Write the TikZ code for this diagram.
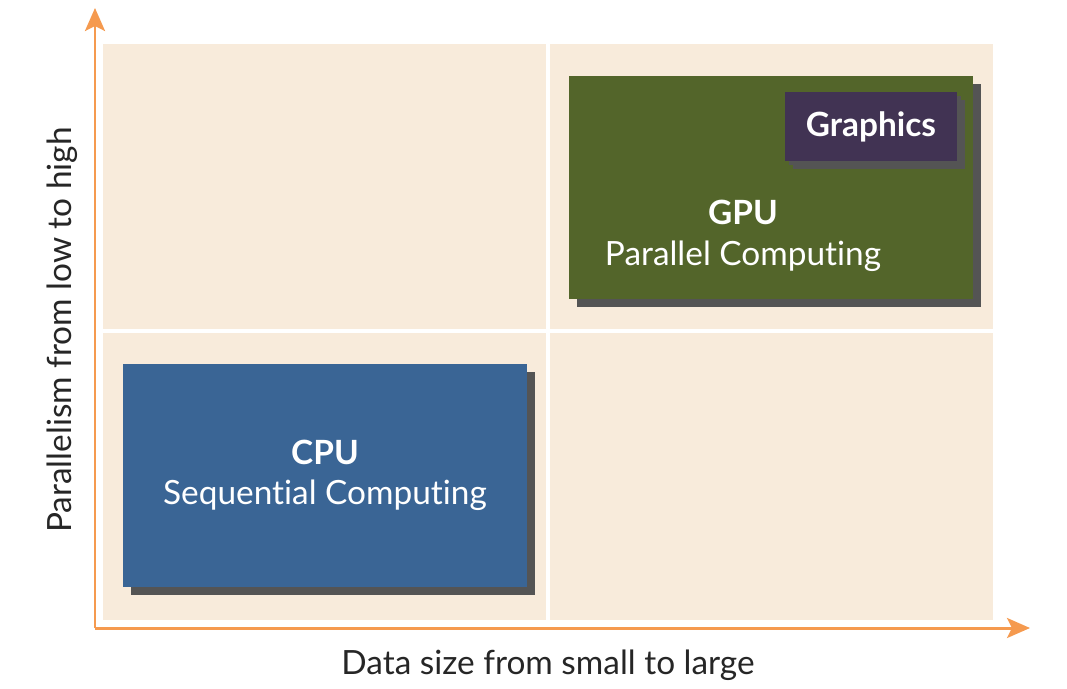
\documentclass[tikz,border=0pt]{standalone}
\usepackage{fontspec}
\setmainfont{Lato}[Ligatures=NoCommon]
\usetikzlibrary{arrows.meta,positioning,shadows}

\definecolor{bgbeige}{HTML}{F8EBDB}
\definecolor{gpugreen}{HTML}{53652A}
\definecolor{gfxpurple}{HTML}{413353}
\definecolor{cpublue}{HTML}{3A6595}
\definecolor{shadowgray}{HTML}{545454}
\definecolor{axisorange}{HTML}{F59A4F}

\begin{document}
\begin{tikzpicture}
% Define styles
\tikzset{
  chip/.style={rectangle, inner sep=0pt, text=white, font=\fontsize{19}{23}\selectfont,
    align=center, drop shadow={shadow xshift=0.16cm, shadow yshift=-0.16cm, fill=shadowgray, opacity=1}},
  smallchip/.style={chip, drop shadow={shadow xshift=0.08cm, shadow yshift=-0.08cm, fill=shadowgray, opacity=1}},
  axis/.style={draw=axisorange, line width=1.7pt, -{Stealth[length=0.46cm, width=0.4cm, inset=0.1cm]}},
  chiptext/.style={text=white, font=\fontsize{19}{23}\selectfont, align=center, inner sep=0pt},
  axislabel/.style={font=\fontsize{19}{23}\selectfont, text=black!85}
}
\useasboundingbox (0,0) rectangle (21.34,13.76);

% Quadrants
\fill[bgbeige] (2.06,1.36) rectangle (19.86,12.88);
\draw[white, line width=2pt] (10.96,1.36) -- (10.96,12.88);
\draw[white, line width=2pt] (2.06,7.14) -- (19.86,7.14);

% Axes
\coordinate (origin) at (1.9,1.2);
\coordinate (ytip) at (1.9,13.6);
\coordinate (xtip) at (20.6,1.2);
\draw[axis] (origin) -- (ytip);
\draw[axis] (origin) -- (xtip);
\node (ylabel) [axislabel, rotate=90] at (1.24,7.16) {Parallelism from low to high};
\node (xlabel) [axislabel] at (10.96,0.46) {Data size from small to large};

% Boxes
\node (cpu) [chip, fill=cpublue, minimum width=8.08cm, minimum height=4.46cm] at (6.5,4.25)
  {\textbf{CPU}\\Sequential Computing};
\node (gpu) [chip, fill=gpugreen, minimum width=8.08cm, minimum height=4.46cm] at (15.42,10.01) {};
\node (gputext) [chiptext] at (14.86,9.04) {\textbf{GPU}\\Parallel Computing};
\node (graphics) [smallchip, fill=gfxpurple, minimum width=3.44cm, minimum height=1.38cm] at (17.42,11.23)
  {\textbf{Graphics}};
\end{tikzpicture}
\end{document}
